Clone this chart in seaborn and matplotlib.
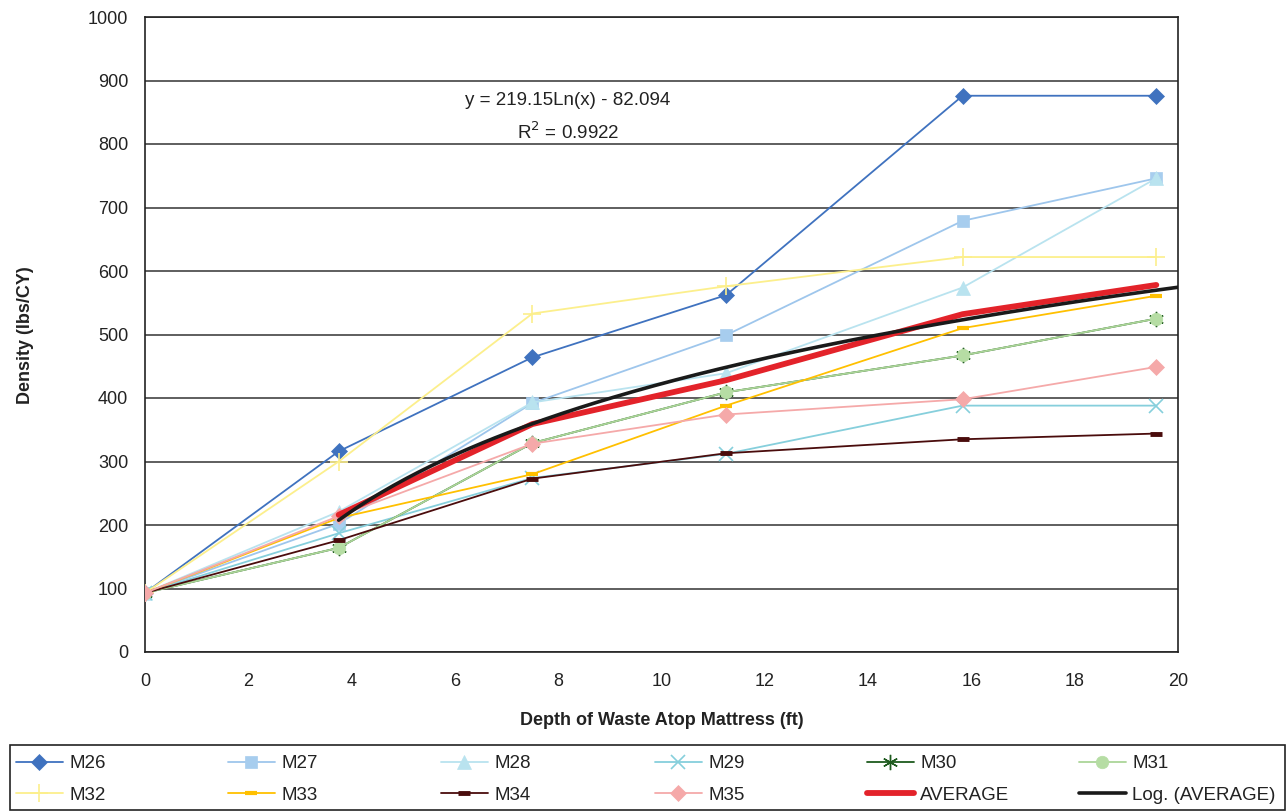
import numpy as np
import pandas as pd
import matplotlib
matplotlib.use("Agg")
import matplotlib.pyplot as plt
from matplotlib.patches import Rectangle
import seaborn as sns

# ---- data ----
depth = [0, 3.75, 7.5, 11.25, 15.83, 19.58]
M26 = [93, 316, 464, 562, 876, 876]
M27 = [93, 202, 392, 499, 679, 746]
M28 = [93, 221, 393, 439, 574, 746]
M29 = [93, 187, 274, 312, 388, 388]
M30 = [93, 164, 329, 409, 467, 525]
M31 = [93, 164, 329, 409, 467, 525]
M32 = [93, 300, 533, 576, 622, 622]
M33 = [93, 211, 280, 388, 510, 561]
M34 = [93, 176, 273, 313, 335, 344]
M35 = [93, 214, 328, 374, 398, 449]
avg_depth = [3.75, 7.5, 11.25, 15.83, 19.58]
AVERAGE = [216, 359, 428, 532, 578]
trend_a = 219.15
trend_b = -82.094
trend_range = [3.75, 20]

series_names = ["M26", "M27", "M28", "M29", "M30", "M31", "M32", "M33", "M34", "M35"]
series_vals = [M26, M27, M28, M29, M30, M31, M32, M33, M34, M35]

styles = {
    "M26": dict(color="#3F72BF", marker="D", ms=8, mfc="#3F72BF", mec="#3F72BF"),
    "M27": dict(color="#9EC6EC", marker="s", ms=9, mfc="#A7CDEE", mec="#A7CDEE"),
    "M28": dict(color="#B9E3EF", marker="^", ms=10, mfc="#B9E3EF", mec="#B9E3EF"),
    "M29": dict(color="#86CFDC", marker="x", ms=10, mfc="#86CFDC", mec="#86CFDC", mew=1.2),
    "M30": dict(color="#1E5A1E", marker=(6, 2, 0), ms=11, mfc="#1E5A1E", mec="#1E5A1E", mew=1.0),
    "M31": dict(color="#ABD598", marker="o", ms=9, mfc="#B6DDA4", mec="#B6DDA4"),
    "M32": dict(color="#FCEF8C", marker="+", ms=13, mfc="#FCEF8C", mec="#FCEF8C", mew=1.2),
    "M33": dict(color="#FFC000", marker="_", ms=8, mfc="#FFC000", mec="#FFC000", mew=3),
    "M34": dict(color="#4A0C0C", marker="_", ms=9, mfc="#4A0C0C", mec="#4A0C0C", mew=3.5),
    "M35": dict(color="#F5A9A9", marker="D", ms=8, mfc="#F5A9A9", mec="#F5A9A9"),
}

sns.set_style("white")
plt.rcParams["font.family"] = ["Liberation Sans", "DejaVu Sans"]

fig = plt.figure(figsize=(12.87, 8.11), dpi=100)
W, H = 1287, 811
ax = fig.add_axes([145 / W, (H - 652) / H, 1033 / W, 635 / H])

for name, vals in zip(series_names, series_vals):
    st = styles[name]
    df = pd.DataFrame({"x": depth, "y": vals})
    sns.lineplot(data=df, x="x", y="y", ax=ax, color=st["color"], lw=1.3,
                 marker=st["marker"], markersize=st["ms"], markerfacecolor=st["mfc"],
                 markeredgecolor=st["mec"], markeredgewidth=st.get("mew", 0.5),
                 label=name, legend=False, estimator=None, sort=False, zorder=3)

df_avg = pd.DataFrame({"x": avg_depth, "y": AVERAGE})
sns.lineplot(data=df_avg, x="x", y="y", ax=ax, color="#E3232A", lw=4.2,
             label="AVERAGE", legend=False, estimator=None, sort=False, zorder=4)

xt = np.linspace(trend_range[0], trend_range[1], 200)
df_tr = pd.DataFrame({"x": xt, "y": trend_a * np.log(xt) + trend_b})
sns.lineplot(data=df_tr, x="x", y="y", ax=ax, color="#1A1A1A", lw=2.6,
             label="Log. (AVERAGE)", legend=False, estimator=None, sort=False, zorder=5)

ax.set_xlim(0, 20)
ax.set_ylim(0, 1000)
ax.set_xticks(np.arange(0, 21, 2))
ax.set_yticks(np.arange(0, 1001, 100))
ax.yaxis.grid(True, color="#333333", lw=1.1)
ax.xaxis.grid(False)
ax.set_axisbelow(True)
for sp in ax.spines.values():
    sp.set_color("#222222")
    sp.set_linewidth(1.2)
ax.tick_params(axis="both", direction="out", length=6, width=1, color="#555555",
               labelsize=13, labelcolor="#222222", pad=6)
ax.tick_params(axis="x", pad=9)

ax.set_xlabel("Depth of Waste Atop Mattress (ft)", fontsize=13, fontweight="bold",
              color="#222222", labelpad=16)
ax.set_ylabel("")
fig.text(25 / W, 1 - 335 / H, "Density (lbs/CY)", rotation=90, ha="center",
         va="center", fontsize=13, fontweight="bold", color="#222222")

ax.text(8.19, 869, "y = 219.15Ln(x) - 82.094", ha="center", va="center",
        fontsize=13.5, color="#222222")
ax.text(8.19, 819, r"R$^2$ = 0.9922", ha="center", va="center",
        fontsize=13.5, color="#222222")

# ---- legend: six fixed-width columns inside one frame ----
handles, labels = ax.get_legend_handles_labels()
hmap = dict(zip(labels, handles))
columns = [["M26", "M32"], ["M27", "M33"], ["M28", "M34"], ["M29", "M35"],
           ["M30", "AVERAGE"], ["M31", "Log. (AVERAGE)"]]
col_x = [16, 228, 441, 655, 867, 1079]
for cx, col in zip(col_x, columns):
    lg = fig.legend([hmap[k] for k in col], col, loc="upper left",
                    bbox_to_anchor=(cx / W, 1 - 755 / H), bbox_transform=fig.transFigure,
                    ncol=1, fontsize=13.5, frameon=False, handlelength=2.5,
                    handletextpad=0.35, borderpad=0, labelspacing=0.78, borderaxespad=0)
    for t in lg.get_texts():
        t.set_color("#222222")

fig.patches.append(Rectangle((10 / W, 1 / H), 1275 / W, 65 / H,
                             transform=fig.transFigure, fill=False,
                             edgecolor="#222222", lw=1.2))

fig.savefig("out.png", dpi=100)
